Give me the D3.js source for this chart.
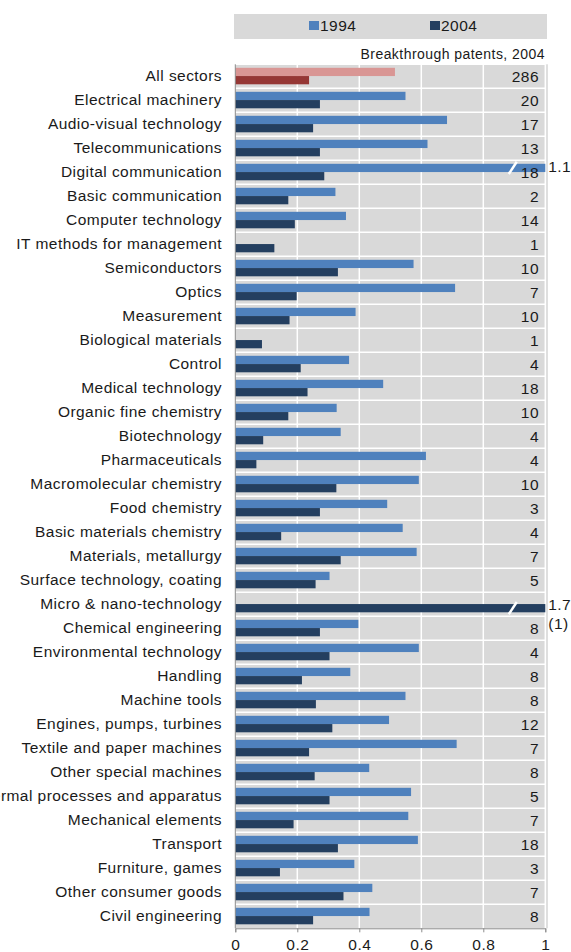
<!DOCTYPE html>
<meta charset="utf-8">
<html>
<head>
<style>
  body { margin: 0; background: #fff; }
  text { font-family: "Liberation Sans", Arial, sans-serif; fill: #1a1a1a; }
</style>
</head>
<body>
<div id="chart"></div>
<script src="https://cdn.jsdelivr.net/npm/d3@7"></script>
<script>
// categories, top to bottom
var sectors = ["All sectors", "Electrical machinery", "Audio-visual technology", "Telecommunications",
  "Digital communication", "Basic communication", "Computer technology", "IT methods for management",
  "Semiconductors", "Optics", "Measurement", "Biological materials", "Control", "Medical technology",
  "Organic fine chemistry", "Biotechnology", "Pharmaceuticals", "Macromolecular chemistry",
  "Food chemistry", "Basic materials chemistry ", "Materials, metallurgy", "Surface technology, coating",
  "Micro & nano-technology", "Chemical engineering", "Environmental technology", "Handling",
  "Machine tools", "Engines, pumps, turbines", "Textile and paper machines", "Other special machines",
  "Thermal processes and apparatus", "Mechanical elements", "Transport", "Furniture, games",
  "Other consumer goods", "Civil engineering"];

// null = no bar
var v1994 = [0.515, 0.549, 0.683, 0.620, 1.1, 0.323, 0.357, null,
  0.575, 0.709, 0.388, null, 0.367, 0.477, 0.327, 0.340,
  0.615, 0.592, 0.490, 0.540, 0.585, 0.304, null, 0.397,
  0.592, 0.371, 0.549, 0.496, 0.714, 0.432, 0.567, 0.558,
  0.589, 0.384, 0.442, 0.433];

var v2004 = [0.238, 0.273, 0.251, 0.273, 0.287, 0.171, 0.192, 0.126,
  0.331, 0.198, 0.175, 0.086, 0.211, 0.233, 0.171, 0.090,
  0.068, 0.326, 0.273, 0.148, 0.340, 0.259, 1.7, 0.273,
  0.304, 0.215, 0.260, 0.313, 0.238, 0.256, 0.304, 0.188,
  0.331, 0.144, 0.349, 0.251];

var patents = ["286", "20", "17", "13", "18", "2", "14", "1", "10", "7", "10", "1", "4", "18", "10", "4",
  "4", "10", "3", "4", "7", "5", "(1)", "8", "4", "8", "8", "12", "7", "8", "5", "7", "18", "3", "7", "8"];

var years = ["1994", "2004"];
var xTicks = [0, 0.2, 0.4, 0.6, 0.8, 1];
var tickLabels = ["0", "0.2", "0.4", "0.6", "0.8", "1"];

var colors = { "1994": "#4f81bd", "2004": "#243f60" };
var totalColors = { "1994": "#d99694", "2004": "#953735" };

var W = 571, H = 952;
var plot = { left: 235.3, right: 545.3, top: 64.3, bottom: 928.3 };
var font = "15.5px", ls = "0.45px";

var svg = d3.select("#chart").append("svg").attr("width", W).attr("height", H);

var x = d3.scaleLinear().domain([0, 1]).range([plot.left, plot.right]);
var y = d3.scaleBand().domain(sectors).range([plot.top, plot.bottom]).padding(0);
var ySub = d3.scaleBand().domain(years).range([3.5, 20]).padding(0);

// legend
var leg = svg.append("g");
leg.append("rect").attr("x", 234).attr("y", 14).attr("width", 313).attr("height", 25).attr("fill", "#d9d9d9");
[["1994", 309], ["2004", 430]].forEach(function (d) {
  leg.append("rect").attr("x", d[1]).attr("y", 21).attr("width", 10).attr("height", 9).attr("fill", colors[d[0]]);
  leg.append("text").attr("x", d[1] + 11).attr("y", 31).style("font-size", font).style("letter-spacing", ls).text(d[0]);
});

svg.append("text").attr("x", 545).attr("y", 59).attr("text-anchor", "end")
  .style("font-size", "14px").style("letter-spacing", "0.45px").text("Breakthrough patents, 2004");

// plot background
svg.append("rect").attr("x", plot.left).attr("y", plot.top)
  .attr("width", plot.right - plot.left).attr("height", plot.bottom - plot.top).attr("fill", "#d9d9d9");

// grid
svg.append("g").selectAll("line.v").data(xTicks.slice(1)).enter().append("line")
  .attr("x1", function (d) { return x(d); }).attr("x2", function (d) { return x(d); })
  .attr("y1", plot.top).attr("y2", plot.bottom).attr("stroke", "#fff").attr("stroke-width", 1.5);
svg.append("g").selectAll("line.h").data(sectors).enter().append("line")
  .attr("x1", plot.left).attr("x2", plot.right)
  .attr("y1", function (d) { return y(d); }).attr("y2", function (d) { return y(d); })
  .attr("stroke", "#fff").attr("stroke-width", 1.5);
svg.append("line").attr("x1", plot.right + 1.7).attr("x2", plot.right + 1.7)
  .attr("y1", plot.top).attr("y2", plot.bottom).attr("stroke", "#bfbfbf");

// bars
var rows = sectors.map(function (s, i) {
  return { sector: s, i: i, vals: { "1994": v1994[i], "2004": v2004[i] } };
});
var bars = [];
rows.forEach(function (r) {
  years.forEach(function (yr) {
    if (r.vals[yr] != null) bars.push({ sector: r.sector, i: r.i, year: yr, v: r.vals[yr] });
  });
});

svg.append("g").selectAll("rect").data(bars).enter().append("rect")
  .attr("x", x(0))
  .attr("y", function (d) { return y(d.sector) + ySub(d.year); })
  .attr("width", function (d) { return x(Math.min(d.v, 1)) - x(0); })
  .attr("height", ySub.bandwidth())
  .attr("fill", function (d) { return d.i === 0 ? totalColors[d.year] : colors[d.year]; });

// broken bars: slash + value
var broken = bars.filter(function (d) { return d.v > 1; });
broken.forEach(function (d) {
  var by = y(d.sector) + ySub(d.year), bh = ySub.bandwidth(), sx = x(0.895);
  svg.append("line").attr("x1", sx - 4).attr("y1", by + bh + 2).attr("x2", sx + 4).attr("y2", by - 2)
    .attr("stroke", "#fff").attr("stroke-width", 2.5);
  svg.append("text").attr("x", plot.right + 3).attr("y", by + bh / 2 + (d.year === "2004" ? 2 : 4))
    .style("font-size", font).style("letter-spacing", ls).text(d3.format(".1f")(d.v));
});

// patent counts (pushed outside the plot when the 2004 bar runs off the scale)
svg.append("g").selectAll("text").data(rows).enter().append("text")
  .attr("x", function (d) { return d.vals["2004"] > 1 ? plot.right + 3 : 539; })
  .attr("y", function (d) {
    var c = y(d.sector) + y.bandwidth() / 2;
    return d.vals["2004"] > 1 ? c + 25 : c + 6;
  })
  .attr("text-anchor", function (d) { return d.vals["2004"] > 1 ? "start" : "end"; })
  .style("font-size", font).style("letter-spacing", ls)
  .text(function (d) { return patents[d.i]; });

// category labels
svg.append("g").selectAll("text").data(sectors).enter().append("text")
  .attr("x", 222).attr("y", function (d) { return y(d) + y.bandwidth() / 2 + 5; })
  .attr("text-anchor", "end").style("font-size", font).style("letter-spacing", ls)
  .text(function (d) { return d; });

// axes
var xAxis = d3.axisBottom(x).tickValues(xTicks).tickSize(4)
  .tickFormat(function (d, i) { return tickLabels[i]; });
var gx = svg.append("g").attr("transform", "translate(0," + plot.bottom + ")").call(xAxis);
gx.select(".domain").attr("stroke", "#8c8c8c");
gx.selectAll(".tick line").attr("stroke", "#8c8c8c");
gx.selectAll(".tick text").attr("dy", null).attr("y", 22)
  .style("font-family", '"Liberation Sans", Arial, sans-serif')
  .style("font-size", font).style("letter-spacing", ls).attr("fill", "#1a1a1a");

svg.append("line").attr("x1", plot.left).attr("x2", plot.left)
  .attr("y1", plot.top).attr("y2", plot.bottom).attr("stroke", "#8c8c8c");
</script>
</body>
</html>
